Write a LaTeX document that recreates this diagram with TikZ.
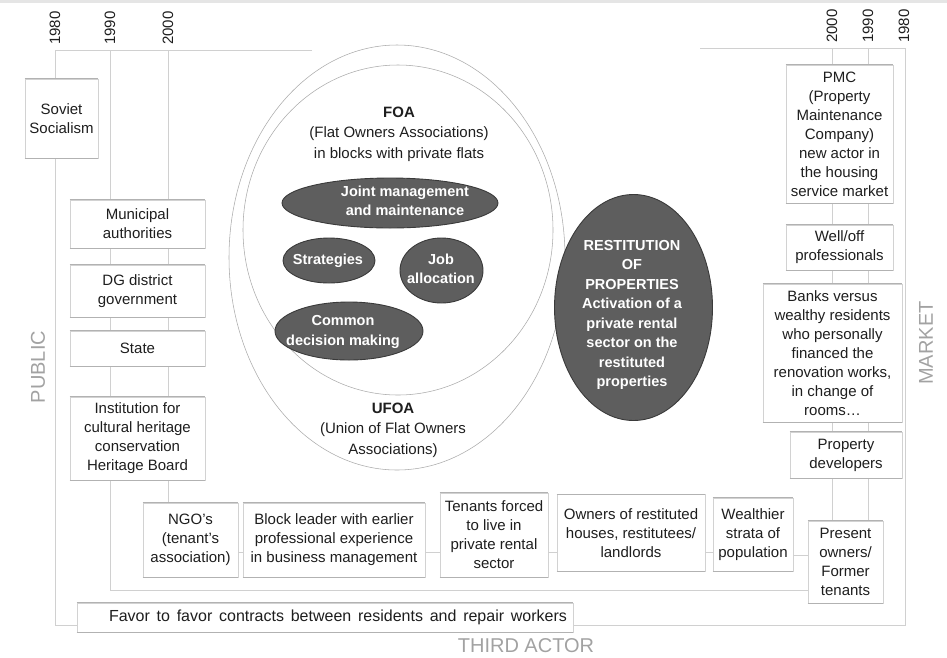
\documentclass[tikz,border=0pt]{standalone}
\usepackage{fontspec}
\setmainfont{Liberation Sans}
\usetikzlibrary{calc}
\definecolor{ink}{HTML}{1E1E1E}
\definecolor{rule}{HTML}{D0D0D0}
\definecolor{side}{HTML}{D2D2D2}
\definecolor{edge}{HTML}{B2B2B2}
\definecolor{blob}{HTML}{5E5E5E}
\definecolor{blobedge}{HTML}{3A3A3A}
\definecolor{zone}{HTML}{A2A2A2}
\begin{document}
\begin{tikzpicture}[x=1pt,y=-1pt,
  guide/.style={draw=rule, line width=0.6pt},
  actor/.style={draw=side, fill=white, line width=0.6pt, inner sep=0pt,
    align=center, text=ink, font=\fontsize{15}{19}\selectfont},
  rim/.style={draw=edge, line width=0.7pt},
  blobshape/.style={draw=blobedge, fill=blob, line width=0.9pt},
  blobtext/.style={align=center, text=white, inner sep=0pt,
    font=\bfseries\fontsize{14.5}{19.5}\selectfont},
  ring/.style={draw=black!33, line width=0.55pt},
  plain/.style={align=center, text=ink, inner sep=0pt,
    font=\fontsize{15}{20.5}\selectfont},
  year/.style={rotate=90, text=ink, inner sep=0pt, font=\fontsize{15}{15}\selectfont},
  zonelabel/.style={text=zone, inner sep=0pt, font=\fontsize{20}{20}\selectfont}]

\useasboundingbox (0,0) rectangle (947,657);
\fill[black!10] (0,0) rectangle (947,3);

% ---- time frames: 1980 (outer), 1990, 2000 ----
\draw[guide] (312,50) -- (55,50) -- (55,625) -- (905,625) -- (905,48) -- (700,48);
\draw[guide] (110,50) -- (110,590) -- (808,590);
\draw[guide] (868,48) -- (868,521);
\draw[guide] (168,50) -- (168,503);
\draw[guide] (832,48) -- (832,521);

% ---- year marks ----
\node[year] (y80l) at (55,28) {1980};
\node[year] (y90l) at (110,28) {1990};
\node[year] (y00l) at (168,28) {2000};
\node[year] (y00r) at (832,26) {2000};
\node[year] (y90r) at (868,26) {1990};
\node[year] (y80r) at (904,26) {1980};

% ---- sector labels ----
\node[zonelabel, rotate=90] (public) at (38,367) {PUBLIC};
\node[zonelabel, rotate=90] (market) at (926,343) {MARKET};
\node[zonelabel] (third) at (526,646) {THIRD ACTOR};

% ---- public actors ----
\node[actor, minimum width=73pt, minimum height=79pt] (soviet) at (61.5,118.5) {Soviet\\Socialism};
\node[actor, minimum width=135pt, minimum height=48pt] (muni) at (137.5,224) {Municipal\\authorities};
\node[actor, minimum width=135pt, minimum height=52pt] (dg) at (137.5,291) {DG district\\government};
\node[actor, minimum width=135pt, minimum height=35pt] (state) at (137.5,348.5) {State};
\node[actor, minimum width=135pt, minimum height=83pt] (inst) at (137.5,438.5) {Institution for\\cultural heritage\\conservation\\Heritage Board};

% ---- market actors ----
\node[actor, minimum width=107pt, minimum height=138pt] (pmc) at (839.5,134) {PMC\\(Property\\Maintenance\\Company)\\new actor in\\the housing\\service market};
\node[actor, minimum width=107pt, minimum height=45pt] (welloff) at (839.5,247.5) {Well/off\\professionals};
\node[actor, minimum width=139pt, minimum height=138pt] (banks) at (832.5,353) {Banks versus\\wealthy residents\\who personally\\financed the\\renovation works,\\in change of\\rooms…};
\node[actor, minimum width=112pt, minimum height=46pt] (propdev) at (846,455) {Property\\developers};

% ---- third-actor row ----
\node[actor, minimum width=95pt, minimum height=74pt] (ngo) at (190.5,540) {NGO’s\\(tenant’s\\association)};
\node[actor, minimum width=182pt, minimum height=74pt] (block) at (334,540) {Block leader with earlier\\professional experience\\in business management};
\node[actor, minimum width=108pt, minimum height=84pt] (tenants) at (494,535) {Tenants forced\\to live in\\private rental\\sector};
\node[actor, minimum width=148pt, minimum height=77pt] (owners) at (631,533) {Owners of restituted\\houses, restitutees/\\landlords};
\node[actor, minimum width=80pt, minimum height=73pt] (wealth) at (753,534.5) {Wealthier\\strata of\\population};
\node[actor, minimum width=75pt, minimum height=82pt] (present) at (845.5,562) {Present\\owners/\\Former\\tenants};
\node[actor, minimum width=496pt, minimum height=29pt, font=\fontsize{16}{19}\selectfont] (favor) at (325,617.5) {\hspace*{26pt}\makebox[458pt][s]{Favor to favor contracts between residents and repair workers}};

% top and bottom rims of the boxes read stronger than their sides
\foreach \b in {soviet,muni,dg,state,inst,pmc,welloff,banks,propdev,ngo,block,tenants,owners,wealth,present,favor}{
  \draw[rim] (\b.north west) -- (\b.north east);
  \draw[rim] (\b.south west) -- (\b.south east);
}

% row links along the 2000 frame
\coordinate (rowline) at (0,552);
\coordinate (rowlow) at (0,555);
\draw[guide] (ngo.east |- rowline) -- (block.west |- rowline);
\draw[guide] (block.east |- rowline) -- (tenants.west |- rowline);
\draw[guide] (tenants.east |- rowline) -- (owners.west |- rowline);
\draw[guide] (owners.east |- rowline) -- (wealth.west |- rowline);
\draw[guide] (wealth.east |- rowlow) -- (present.west |- rowlow);

% ---- associations: UFOA (outer) and FOA (inner) ----
\draw[ring] (397,257.5) ellipse [x radius=168, y radius=212.5];
\draw[ring] (398,230) ellipse [x radius=155, y radius=165];

\node[plain] (foa) at (399,134) {\textbf{FOA}\\(Flat Owners Associations)\\in blocks with private flats};
\node[plain] (ufoa) at (393,430) {\textbf{UFOA}\\(Union of Flat Owners\\Associations)};

% ---- FOA activities ----
\path[blobshape] (390,203) ellipse [x radius=108, y radius=25];
\node[blobtext] (joint) at (405,201) {Joint management\\and maintenance};
\path[blobshape] (329,260.5) ellipse [x radius=46, y radius=22.5];
\node[blobtext] (strat) at (328,261) {Strategies};
\path[blobshape] (441.5,270.5) ellipse [x radius=41.5, y radius=32.5];
\node[blobtext] (job) at (441,269) {Job\\allocation};
\path[blobshape] (349,331) ellipse [x radius=74, y radius=29];
\node[blobtext] (common) at (343,332) {Common\\decision making};

% ---- restitution ----
\path[blobshape] (633.5,307.5) ellipse [x radius=79, y radius=113];
\node[blobtext] (restit) at (632,315) {RESTITUTION\\OF\\PROPERTIES\\Activation of a\\private rental\\sector on the\\restituted\\properties};

\end{tikzpicture}
\end{document}
